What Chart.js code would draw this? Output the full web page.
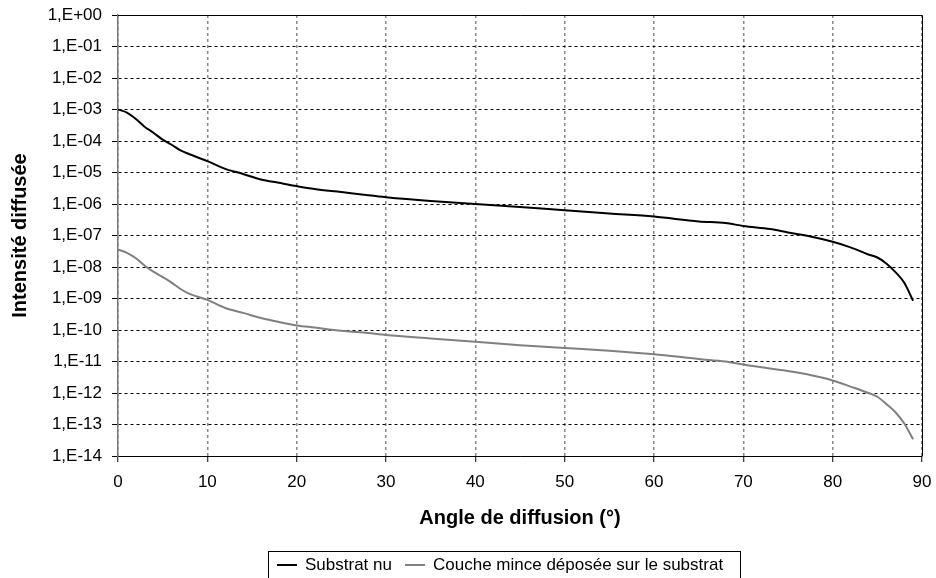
<!DOCTYPE html>
<html>
<head>
<meta charset="utf-8">
<script src="https://cdn.jsdelivr.net/npm/chart.js@4/dist/chart.umd.min.js"></script>
<style>
html,body{margin:0;padding:0;background:#fff;overflow:hidden}
#wrap{position:relative;width:936px;height:578px}
#legend{position:absolute;left:268px;top:551px;width:473px;height:40px;border:1px solid #000;border-bottom:none;
  font-family:"Liberation Sans",Arial,sans-serif;font-size:17px;color:#000;box-sizing:border-box;white-space:nowrap}
#legend .item{position:absolute;top:3px;line-height:20px}
#legend .mark{display:inline-block;width:20px;height:0;border-top:2px solid #000;vertical-align:middle;margin-right:8px;position:relative;top:-1px}
</style>
</head>
<body>
<div id="wrap">
  <canvas id="myChart" width="936" height="578"></canvas>
  <div id="legend"></div>
</div>
<script>
const angles=[0,1,2,3,4,5,6,7,8,10,12,14,16,18,20,22,25,28,30,35,40,45,50,55,60,65,68,70,73,75,77,80,82,84,85,86,87,88,89]
const substratNu=[1.0e-3,8e-4,5e-4,2.8e-4,1.8e-4,1.1e-4,7.6e-5,5e-5,3.8e-5,2.3e-5,1.3e-5,9e-6,6e-6,4.7e-6,3.7e-6,3e-6,2.4e-6,1.9e-6,1.65e-6,1.25e-6,1.0e-6,8e-7,6.3e-7,5e-7,4e-7,2.8e-7,2.5e-7,2e-7,1.6e-7,1.25e-7,1e-7,6.3e-8,4.2e-8,2.5e-8,2e-8,1.3e-8,7e-9,3.2e-9,8.5e-10]
const coucheMince=[3.6e-8,2.8e-8,1.9e-8,1.1e-8,7e-9,4.8e-9,3.2e-9,2e-9,1.4e-9,9e-10,5e-10,3.5e-10,2.4e-10,1.8e-10,1.4e-10,1.2e-10,9.5e-11,8e-11,7e-11,5.4e-11,4.2e-11,3.3e-11,2.7e-11,2.2e-11,1.7e-11,1.2e-11,1e-11,8e-12,6e-12,5e-12,4e-12,2.5e-12,1.6e-12,1e-12,7.6e-13,4.5e-13,2.5e-13,1.1e-13,3.4e-14]
const yTickValues=[1e0,1e-1,1e-2,1e-3,1e-4,1e-5,1e-6,1e-7,1e-8,1e-9,1e-10,1e-11,1e-12,1e-13,1e-14]
const yTickLabels=['1,E+00','1,E-01','1,E-02','1,E-03','1,E-04','1,E-05','1,E-06','1,E-07','1,E-08','1,E-09','1,E-10','1,E-11','1,E-12','1,E-13','1,E-14']
const seriesNames=['Substrat nu','Couche mince déposée sur le substrat']
const seriesColors=['#000000','#808080']

const FONT='"Liberation Sans", Arial, sans-serif'

const frame={
    id:'frame',
    afterDraw(chart){
        const {ctx,chartArea:a}=chart
        ctx.save()
        ctx.strokeStyle='#000'
        ctx.lineWidth=1
        ctx.beginPath()
        ctx.moveTo(a.left,a.top+0.5)
        ctx.lineTo(a.right+0.5,a.top+0.5)
        ctx.lineTo(a.right+0.5,a.bottom)
        ctx.stroke()
        ctx.restore()
    }
}

function toPoints(ys){
    return angles.map((x,i)=>({x:x,y:ys[i]}))
}

function loadChart(){
    Chart.defaults.font.family=FONT
    Chart.defaults.color='#000'
    const ctx=document.getElementById('myChart')
    new Chart(ctx,{
        type:'line',
        data:{
            datasets:[
                {label:seriesNames[0],data:toPoints(substratNu),borderColor:seriesColors[0],borderWidth:2,pointRadius:0,cubicInterpolationMode:'monotone'},
                {label:seriesNames[1],data:toPoints(coucheMince),borderColor:seriesColors[1],borderWidth:2,pointRadius:0,cubicInterpolationMode:'monotone'}
            ]
        },
        options:{
            responsive:false,
            animation:false,
            layout:{padding:{left:0,right:14,top:15,bottom:38}},
            plugins:{legend:{display:false},tooltip:{enabled:false}},
            scales:{
                x:{
                    type:'linear',min:0,max:90,
                    ticks:{stepSize:10,font:{size:17},padding:10,maxRotation:0},
                    grid:{color:'#888',lineWidth:1.5,tickColor:'#000',tickLength:6,tickWidth:1},
                    border:{color:'#000',width:1,dash:[3,3]},
                    title:{display:true,text:'Angle de diffusion (°)',font:{size:20,weight:'bold'},padding:{top:0,bottom:10}},
                    afterFit(s){s.height=84;s.paddingLeft=0;s.paddingRight=0}
                },
                y:{
                    type:'logarithmic',min:1e-14,max:1,
                    afterBuildTicks(s){s.ticks=yTickValues.map(v=>({value:v}))},
                    ticks:{font:{size:17},padding:10,autoSkip:false,
                        callback:(v,i)=>yTickLabels[yTickValues.indexOf(v)]},
                    grid:{color:'#000',lineWidth:1,tickColor:'#000',tickLength:6},
                    border:{color:'#777',width:1.5,dash:[3,3]},
                    title:{display:true,text:'Intensité diffusée',font:{size:20,weight:'bold'},padding:{top:8,bottom:0}},
                    afterFit(s){s.width=118;s.paddingTop=0;s.paddingBottom=0}
                }
            }
        },
        plugins:[frame]
    })
}

function showLegend(){
    const legend=document.getElementById('legend')
    const lefts=[8,136]
    seriesNames.map((name,i)=>{
        const item=document.createElement('span')
        item.className='item'
        item.style.left=lefts[i]+'px'
        const mark=document.createElement('span')
        mark.className='mark'
        mark.style.borderTopColor=seriesColors[i]
        item.appendChild(mark)
        item.appendChild(document.createTextNode(name))
        legend.appendChild(item)
    })
}

loadChart()
showLegend()
</script>
</body>
</html>
